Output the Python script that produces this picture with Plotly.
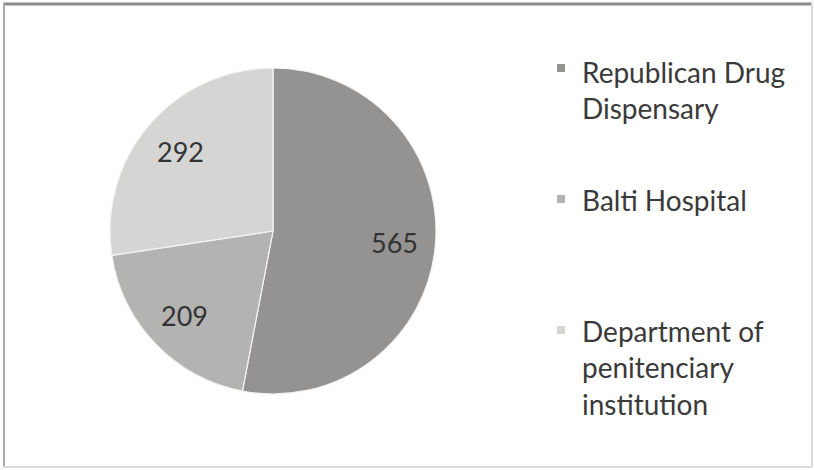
import math
import plotly.graph_objects as go

labels = ["Republican Drug Dispensary", "Balti Hospital", "Department of penitenciary institution"]
legend_lines = ["Republican Drug<br>Dispensary", "Balti Hospital", "Department of<br>penitenciary<br>institution"]
values = [565, 209, 292]
colors = ["#959391", "#b3b3b1", "#d5d6d3"]

W, H = 814, 470
CX, CY, R = 273, 231, 163  # pie centre / radius in pixels

fig = go.Figure()
fig.add_trace(go.Pie(
    labels=labels, values=values, sort=False, direction="clockwise", rotation=0,
    marker=dict(colors=colors, line=dict(color="#f4f4f4", width=1.2)),
    textinfo="none",
    domain=dict(x=[(CX - R) / W, (CX + R) / W], y=[1 - (CY + R) / H, 1 - (CY - R) / H]),
    showlegend=False, hoverinfo="label+value",
))

# value labels placed along each slice's mid-angle (Excel-like position)
total = sum(values)
start = 90.0
for v in values:
    sweep = 360.0 * v / total
    mid = math.radians(start - sweep / 2)
    start -= sweep
    px = CX + 0.75 * R * math.cos(mid)
    py = CY - 0.75 * R * math.sin(mid)
    fig.add_annotation(text=str(v), xref="paper", yref="paper", x=px / W, y=1 - py / H,
                       xanchor="center", yanchor="middle", showarrow=False,
                       font=dict(family="Lato", size=27, color="#333333"))

# manual legend (square marker + label text)
leg_marker_y = [68, 199, 330]
leg_text_top = [53, 181, 312]
for name, c, yc, yt in zip(legend_lines, colors, leg_marker_y, leg_text_top):
    fig.add_shape(type="rect", xref="paper", yref="paper",
                  x0=557 / W, x1=565 / W, y0=1 - (yc + 4) / H, y1=1 - (yc - 4) / H,
                  fillcolor=c, line=dict(width=0))
    fig.add_annotation(text=name, xref="paper", yref="paper", x=580 / W, y=1 - yt / H,
                       xanchor="left", yanchor="top", align="left", showarrow=False,
                       font=dict(family="Lato", size=28, color="#3a3a3a"))

# frame
fig.add_shape(type="line", xref="paper", yref="paper", x0=3 / W, x1=812 / W, y0=1 - 4 / H, y1=1 - 4 / H,
              line=dict(color="#8c8c8c", width=3))
fig.add_shape(type="line", xref="paper", yref="paper", x0=4 / W, x1=4 / W, y0=1 - 3 / H, y1=1 - 467 / H,
              line=dict(color="#a8a8a8", width=2))
fig.add_shape(type="line", xref="paper", yref="paper", x0=812 / W, x1=812 / W, y0=1 - 3 / H, y1=1 - 467 / H,
              line=dict(color="#dcdcdc", width=2))
fig.add_shape(type="line", xref="paper", yref="paper", x0=3 / W, x1=812 / W, y0=1 - 467 / H, y1=1 - 467 / H,
              line=dict(color="#dcdcdc", width=2))

fig.update_layout(width=W, height=H, autosize=False, margin=dict(l=0, r=0, t=0, b=0),
                  paper_bgcolor="white", plot_bgcolor="white")
fig.write_html("out.html")
